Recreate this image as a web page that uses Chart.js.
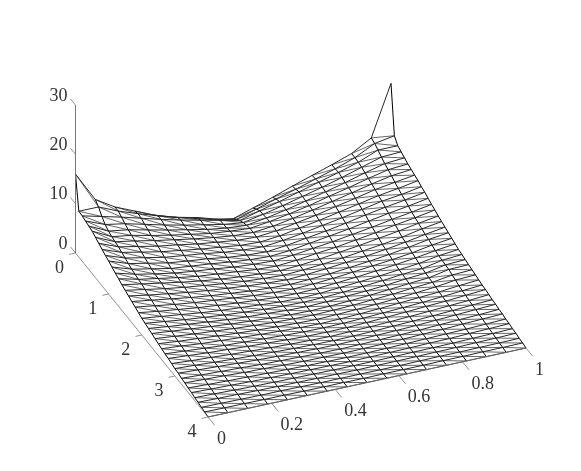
<!DOCTYPE html>
<html>
<head>
<meta charset="utf-8">
<style>
  html, body { margin: 0; padding: 0; background: #fff; }
  canvas { display: block; }
</style>
<script src="https://cdn.jsdelivr.net/npm/chart.js@4"></script>
</head>
<body>
<canvas id="chart" width="581" height="471"></canvas>
<script>
// grid of the surface
const xGrid = [0, 0.0625, 0.125, 0.1875, 0.25, 0.3125, 0.375, 0.4375, 0.5, 0.5625, 0.625, 0.6875, 0.75, 0.8125, 0.875, 0.9375, 1];
const yGrid = [0, 0.1, 0.2, 0.3, 0.4, 0.5, 0.6, 0.7, 0.8, 0.9, 1, 1.1, 1.2, 1.3, 1.4, 1.5, 1.6, 1.7, 1.8, 1.9, 2,
  2.1, 2.2, 2.3, 2.4, 2.5, 2.6, 2.7, 2.8, 2.9, 3, 3.1, 3.2, 3.3, 3.4, 3.5, 3.6, 3.7, 3.8, 3.9, 4];

// surface heights, one row per yGrid value
const zRows = [
  [16, 10, 7.6, 5.9, 4.2, 2.9, 1.8, 0.7, 0, 1.3, 2.6, 4, 5.3, 6.6, 8, 10.3, 20.5],
  [9.3, 9.3, 7.6, 6.2, 4.9, 3.7, 2.8, 1.6, 0.7, 1.9, 3.1, 4.2, 5.4, 6.6, 8, 10, 10.7],
  [9.2, 8.2, 7.2, 6.1, 5, 4, 3.1, 2.2, 1.3, 2.4, 3.4, 4.5, 5.6, 6.7, 7.9, 9.5, 9.5],
  [9, 7.4, 6.7, 5.7, 4.7, 3.8, 3, 2.2, 1.7, 2.5, 3.4, 4.4, 5.4, 6.5, 7.7, 8.9, 9.1],
  [8.8, 6.9, 6.3, 5.4, 4.5, 3.7, 2.9, 2.3, 2, 2.6, 3.4, 4.3, 5.3, 6.3, 7.4, 8.4, 8.7],
  [8.6, 6.6, 6, 5.1, 4.3, 3.6, 2.9, 2.5, 2.2, 2.7, 3.4, 4.2, 5.2, 6.1, 7.1, 8, 8.3],
  [8.2, 6.4, 5.7, 4.9, 4.2, 3.5, 2.9, 2.4, 2.2, 2.6, 3.3, 4.1, 5, 5.9, 6.8, 7.6, 8],
  [7.8, 6.2, 5.4, 4.6, 4, 3.3, 2.8, 2.3, 2.1, 2.5, 3.2, 3.9, 4.8, 5.6, 6.5, 7.1, 7.7],
  [7.4, 5.9, 5.1, 4.3, 3.7, 3.1, 2.6, 2.1, 1.9, 2.3, 3, 3.7, 4.5, 5.3, 6.1, 6.7, 7.4],
  [7, 5.6, 4.8, 4, 3.5, 3, 2.4, 2, 1.8, 2.2, 2.8, 3.5, 4.2, 5, 5.8, 6.3, 7],
  [6.7, 5.3, 4.5, 3.7, 3.2, 2.8, 2.2, 1.8, 1.6, 2, 2.6, 3.2, 3.9, 4.7, 5.4, 6, 6.7],
  [6.3, 5, 4.2, 3.4, 3, 2.6, 2.1, 1.7, 1.5, 1.8, 2.4, 3, 3.6, 4.3, 5, 5.6, 6.3],
  [5.9, 4.8, 4, 3.3, 2.8, 2.4, 1.9, 1.6, 1.4, 1.7, 2.2, 2.7, 3.3, 3.9, 4.6, 5.2, 5.9],
  [5.6, 4.6, 3.9, 3.2, 2.6, 2.2, 1.8, 1.4, 1.2, 1.5, 2, 2.4, 3, 3.6, 4.3, 4.9, 5.6],
  [5.2, 4.5, 3.8, 3.1, 2.5, 2, 1.6, 1.3, 1.1, 1.3, 1.7, 2.2, 2.7, 3.3, 3.9, 4.6, 5.2],
  [4.9, 4.2, 3.5, 2.9, 2.4, 1.9, 1.5, 1.2, 1, 1.2, 1.5, 1.9, 2.4, 2.9, 3.5, 4.3, 4.9],
  [4.6, 3.9, 3.3, 2.7, 2.2, 1.8, 1.4, 1.1, 0.9, 1.1, 1.4, 1.8, 2.2, 2.7, 3.3, 4, 4.6],
  [4.3, 3.7, 3.1, 2.5, 2, 1.6, 1.2, 0.95, 0.8, 0.95, 1.2, 1.6, 2, 2.5, 3.1, 3.8, 4.3],
  [4, 3.4, 2.8, 2.3, 1.9, 1.5, 1.1, 0.85, 0.7, 0.85, 1.1, 1.5, 1.9, 2.3, 2.8, 3.5, 4],
  [3.7, 3.1, 2.6, 2.1, 1.7, 1.3, 1, 0.7, 0.6, 0.7, 1, 1.3, 1.7, 2.1, 2.6, 3.2, 3.7],
  [3.4, 2.9, 2.4, 1.9, 1.5, 1.2, 0.9, 0.6, 0.5, 0.6, 0.9, 1.2, 1.5, 1.9, 2.3, 3, 3.4],
  [3.2, 2.7, 2.2, 1.8, 1.4, 1.1, 0.8, 0.6, 0.5, 0.6, 0.8, 1.1, 1.4, 1.8, 2.1, 2.9, 3.2],
  [3, 2.5, 2.1, 1.7, 1.3, 1, 0.8, 0.55, 0.45, 0.55, 0.8, 1, 1.3, 1.7, 2, 2.8, 3],
  [2.8, 2.4, 2, 1.6, 1.25, 0.95, 0.7, 0.5, 0.4, 0.5, 0.7, 0.95, 1.25, 1.6, 1.9, 2.7, 2.8],
  [2.6, 2.2, 1.8, 1.5, 1.15, 0.9, 0.65, 0.5, 0.4, 0.5, 0.65, 0.9, 1.15, 1.5, 1.8, 2.4, 2.6],
  [2.4, 2, 1.7, 1.35, 1.05, 0.8, 0.6, 0.45, 0.35, 0.45, 0.6, 0.8, 1.05, 1.35, 1.7, 2.2, 2.4],
  [2.2, 1.9, 1.5, 1.25, 1, 0.75, 0.55, 0.4, 0.3, 0.4, 0.55, 0.75, 1, 1.25, 1.5, 1.9, 2.2],
  [2, 1.7, 1.4, 1.1, 0.9, 0.7, 0.5, 0.35, 0.3, 0.35, 0.5, 0.7, 0.9, 1.1, 1.4, 1.7, 2],
  [1.9, 1.6, 1.3, 1.1, 0.85, 0.65, 0.45, 0.3, 0.25, 0.3, 0.45, 0.65, 0.85, 1.1, 1.3, 1.6, 1.9],
  [1.7, 1.4, 1.2, 0.95, 0.75, 0.55, 0.4, 0.3, 0.2, 0.3, 0.4, 0.55, 0.75, 0.95, 1.2, 1.4, 1.7],
  [1.5, 1.3, 1.05, 0.85, 0.65, 0.5, 0.35, 0.25, 0.2, 0.25, 0.35, 0.5, 0.65, 0.85, 1.05, 1.3, 1.5],
  [1.4, 1.2, 1, 0.8, 0.6, 0.45, 0.35, 0.25, 0.2, 0.25, 0.35, 0.45, 0.6, 0.8, 1, 1.2, 1.4],
  [1.2, 1, 0.85, 0.7, 0.5, 0.4, 0.3, 0.2, 0.15, 0.2, 0.3, 0.4, 0.5, 0.7, 0.85, 1, 1.2],
  [1.1, 0.95, 0.8, 0.6, 0.5, 0.35, 0.25, 0.2, 0.15, 0.2, 0.25, 0.35, 0.5, 0.6, 0.8, 0.95, 1.1],
  [0.9, 0.75, 0.6, 0.5, 0.4, 0.3, 0.2, 0.15, 0.1, 0.15, 0.2, 0.3, 0.4, 0.5, 0.6, 0.75, 0.9],
  [0.8, 0.65, 0.55, 0.4, 0.35, 0.25, 0.2, 0.15, 0.1, 0.15, 0.2, 0.25, 0.35, 0.4, 0.55, 0.65, 0.8],
  [0.6, 0.5, 0.4, 0.3, 0.25, 0.2, 0.15, 0.1, 0.1, 0.1, 0.15, 0.2, 0.25, 0.3, 0.4, 0.5, 0.6],
  [0.5, 0.4, 0.35, 0.25, 0.2, 0.15, 0.1, 0.1, 0.05, 0.1, 0.1, 0.15, 0.2, 0.25, 0.35, 0.4, 0.5],
  [0.3, 0.25, 0.2, 0.15, 0.15, 0.1, 0.05, 0.05, 0.05, 0.05, 0.05, 0.1, 0.15, 0.15, 0.2, 0.25, 0.3],
  [0.2, 0.15, 0.15, 0.1, 0.1, 0.05, 0.05, 0.05, 0, 0.05, 0.05, 0.05, 0.1, 0.1, 0.15, 0.15, 0.2],
  [0, 0, 0, 0, 0, 0, 0, 0, 0, 0, 0, 0, 0, 0, 0, 0, 0]
];

// tick labels
const xTicks = [0, 0.2, 0.4, 0.6, 0.8, 1];
const yTicks = [0, 1, 2, 3, 4];
const zTicks = [0, 10, 20, 30];

// view: floor corners on the page and height per z unit
const view = {
  backLeft: [75.5, 253], backRight: [391, 184.4],
  frontLeft: [208, 417], frontRight: [526, 348],
  yMax: 4, zUnit: 4.93
};

function project(x, y, z) {
  const t = y / view.yMax;
  const lx = view.backLeft[0] + (view.frontLeft[0] - view.backLeft[0]) * t;
  const ly = view.backLeft[1] + (view.frontLeft[1] - view.backLeft[1]) * t;
  const rx = view.backRight[0] + (view.frontRight[0] - view.backRight[0]) * t;
  const ry = view.backRight[1] + (view.frontRight[1] - view.backRight[1]) * t;
  return { x: lx + (rx - lx) * x, y: ly + (ry - ly) * x - z * view.zUnit };
}

const gap = { x: null, y: null };
const rowLines = [], columnLines = [], diagonalLines = [], axisLines = [];

// lines along x
yGrid.forEach((y, j) => {
  xGrid.forEach((x, i) => rowLines.push(project(x, y, zRows[j][i])));
  rowLines.push(gap);
});
// lines along y
xGrid.forEach((x, i) => {
  yGrid.forEach((y, j) => columnLines.push(project(x, y, zRows[j][i])));
  columnLines.push(gap);
});
// each cell is split into two triangles
for (let j = 0; j < yGrid.length - 1; j++) {
  for (let i = 0; i < xGrid.length - 1; i++) {
    diagonalLines.push(project(xGrid[i], yGrid[j], zRows[j][i]));
    diagonalLines.push(project(xGrid[i + 1], yGrid[j + 1], zRows[j + 1][i + 1]));
    diagonalLines.push(gap);
  }
}

// axes and tick marks
axisLines.push(project(0, 0, zTicks[zTicks.length - 1]), project(0, 0, 0), project(0, 4, 0), project(1, 4, 0), gap);
zTicks.forEach(z => {
  axisLines.push(project(0, 0, z), project(0, -0.15, z), gap);
});
yTicks.forEach(y => {
  axisLines.push(project(0, y, 0), project(-0.02, y, 0), gap);
});
xTicks.forEach(x => {
  axisLines.push(project(x, 4, 0), project(x, 4.2, 0), gap);
});

// tick label text goes on through the same scales as the marks
const tickLabels = {
  id: "tickLabels",
  afterDatasetsDraw(chart) {
    const { ctx, scales } = chart;
    const put = (text, p, dx, dy, align) => {
      ctx.textAlign = align;
      ctx.fillText(text, scales.x.getPixelForValue(p.x) + dx, scales.y.getPixelForValue(p.y) + dy);
    };
    ctx.save();
    ctx.font = '18px "Liberation Serif", serif';
    ctx.fillStyle = "#333333";
    ctx.textBaseline = "middle";
    zTicks.forEach(z => put(String(z), project(0, 0, z), -8, -9, "right"));
    yTicks.forEach(y => put(String(y), project(0, y, 0), -16, 15, "center"));
    xTicks.forEach(x => put(String(x), project(x, 4, 0), 9, 22, "left"));
    ctx.restore();
  }
};

function lineSet(data, color, width) {
  return { data, borderColor: color, borderWidth: width, pointRadius: 0, spanGaps: false, tension: 0 };
}

new Chart(document.getElementById("chart"), {
  type: "line",
  data: {
    datasets: [
      lineSet(axisLines, "#777777", 0.8),
      lineSet(diagonalLines, "#333333", 0.75),
      lineSet(rowLines, "#000000", 0.85),
      lineSet(columnLines, "#000000", 1)
    ]
  },
  options: {
    responsive: false,
    animation: false,
    layout: { padding: 0 },
    plugins: { legend: { display: false }, tooltip: { enabled: false } },
    scales: {
      x: { type: "linear", min: 0, max: 581, display: false },
      y: { type: "linear", min: 0, max: 471, reverse: true, display: false }
    }
  },
  plugins: [tickLabels]
});
</script>
</body>
</html>
